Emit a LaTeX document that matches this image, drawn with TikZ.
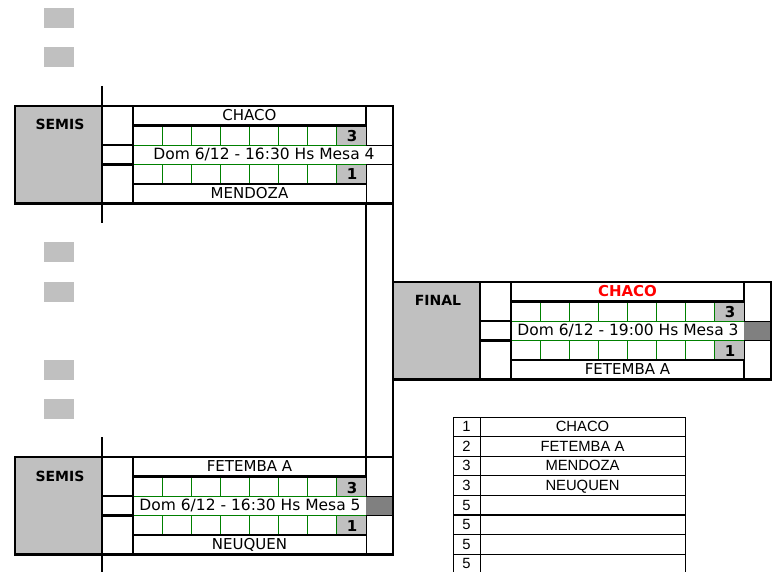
\documentclass[tikz,border=0pt]{standalone}
\usepackage{fontspec}
\setmainfont{DejaVu Sans}
\newfontfamily\tablafont{Liberation Sans}

\definecolor{grisclaro}{RGB}{192,192,192}
\definecolor{grisoscuro}{RGB}{128,128,128}
\definecolor{verdeexcel}{RGB}{0,128,0}
\definecolor{rojoexcel}{RGB}{255,0,0}

\tikzset{
  grueso/.style={line width=2.6pt},
  fino/.style={line width=0.8pt},
  grilla/.style={draw=verdeexcel, line width=0.8pt},
  rotulo/.style={anchor=base, inner sep=0pt, font=\fontsize{14}{16}\selectfont\bfseries},
  equipo/.style={anchor=base, inner sep=0pt, font=\fontsize{15}{18}\selectfont},
  fecha/.style={anchor=base, inner sep=0pt, font=\fontsize{15.5}{18}\selectfont},
  tanto/.style={anchor=base, inner sep=0pt, font=\fontsize{15}{18}\selectfont\bfseries},
  tabla/.style={anchor=base, inner sep=0pt, font=\tablafont\fontsize{14.8}{17}\selectfont}
}

% un partido: nombre, x, y, ronda, equipo 1, equipo 2, fecha, x de la fecha
\newcommand{\llave}[8]{%
  \begin{scope}[shift={(#2,#3)}]
    \fill[grisclaro] (0,0) rectangle (87,97.5);
    \fill[grisclaro] (322,19.5) rectangle (351,39) (322,58.5) rectangle (351,78);
    \foreach \i in {1,...,7}
      \draw[grilla] (118+29.125*\i,19.5) -- ++(0,19.5) (118+29.125*\i,58.5) -- ++(0,19.5);
    \draw[grilla] (118,39) -- (351,39) (118,58.5) -- (351,58.5);
    \draw[fino] (351,39) -- (378,39) (351,58.5) -- (378,58.5)
                (351,19.5) -- (351,39) (351,58.5) -- (351,97.5);
    \draw[grueso] (0,0) rectangle (378,97.5);
    \draw[grueso] (87,0) -- (87,97.5) (118,0) -- (118,97.5)
                  (87,39) -- (118,39) (87,58.5) -- (118,58.5)
                  (118,19.5) -- (351,19.5) -- (351,0)
                  (118,78) -- (351,78);
    \node[rotulo] (#1-rot) at (45,24) {#4};
    \node[equipo] (#1-eq1) at (234.5,14.3) {#5};
    \node[tanto] (#1-t1) at (337,36) {3};
    \node[fecha] (#1-fec) at (#8,53.3) {#7};
    \node[tanto] (#1-t2) at (337,74) {1};
    \node[equipo] (#1-eq2) at (234.5,92.3) {#6};
  \end{scope}}

\begin{document}
\begin{tikzpicture}[x=1pt,y=-1pt]
  \useasboundingbox (0,0) rectangle (772,572);

  \foreach \y in {8,47,242,282,360,399}
    \fill[grisclaro] (44,\y) rectangle ++(30,20);

  \fill[grisoscuro] (366,496) rectangle (393,515.5);
  \fill[grisoscuro] (744,321) rectangle (771,340.5);

  \llave{semiA}{15}{106}{SEMIS}{CHACO}{MENDOZA}{Dom 6/12 - 16:30 Hs Mesa 4}{249}
  \llave{final}{393}{282}{FINAL}{\textcolor{rojoexcel}{\bfseries CHACO}}{FETEMBA A}{Dom 6/12 - 19:00 Hs Mesa 3}{235}
  \llave{semiB}{15}{457}{SEMIS}{FETEMBA A}{NEUQUEN}{Dom 6/12 - 16:30 Hs Mesa 5}{235}

  \draw[grueso] (102,86) -- (102,223) (102,437) -- (102,572);
  \draw[grueso] (366,203.5) -- (366,457) (393,203.5) -- (393,457);
  \draw[grueso] (744,360) -- (744,379.5);

  % posiciones
  \draw[fino] (453,417) -- (453,572) (480,417) -- (480,572) (685,417) -- (685,572);
  \foreach \k in {0,...,7}
    \draw[fino] (453,417+19.6*\k) -- (685,417+19.6*\k);
  \draw[line width=1.6pt] (453,515) -- (685,515);
  \foreach \n/\eq [count=\k from 0] in {1/CHACO,2/FETEMBA A,3/MENDOZA,3/NEUQUEN,5/,5/,5/,5/}{
    \node[tabla] (pos-\k) at (466.5,431.7+19.6*\k) {\n};
    \node[tabla] (eq-\k) at (582.5,431.7+19.6*\k) {\eq};
  }
\end{tikzpicture}
\end{document}
